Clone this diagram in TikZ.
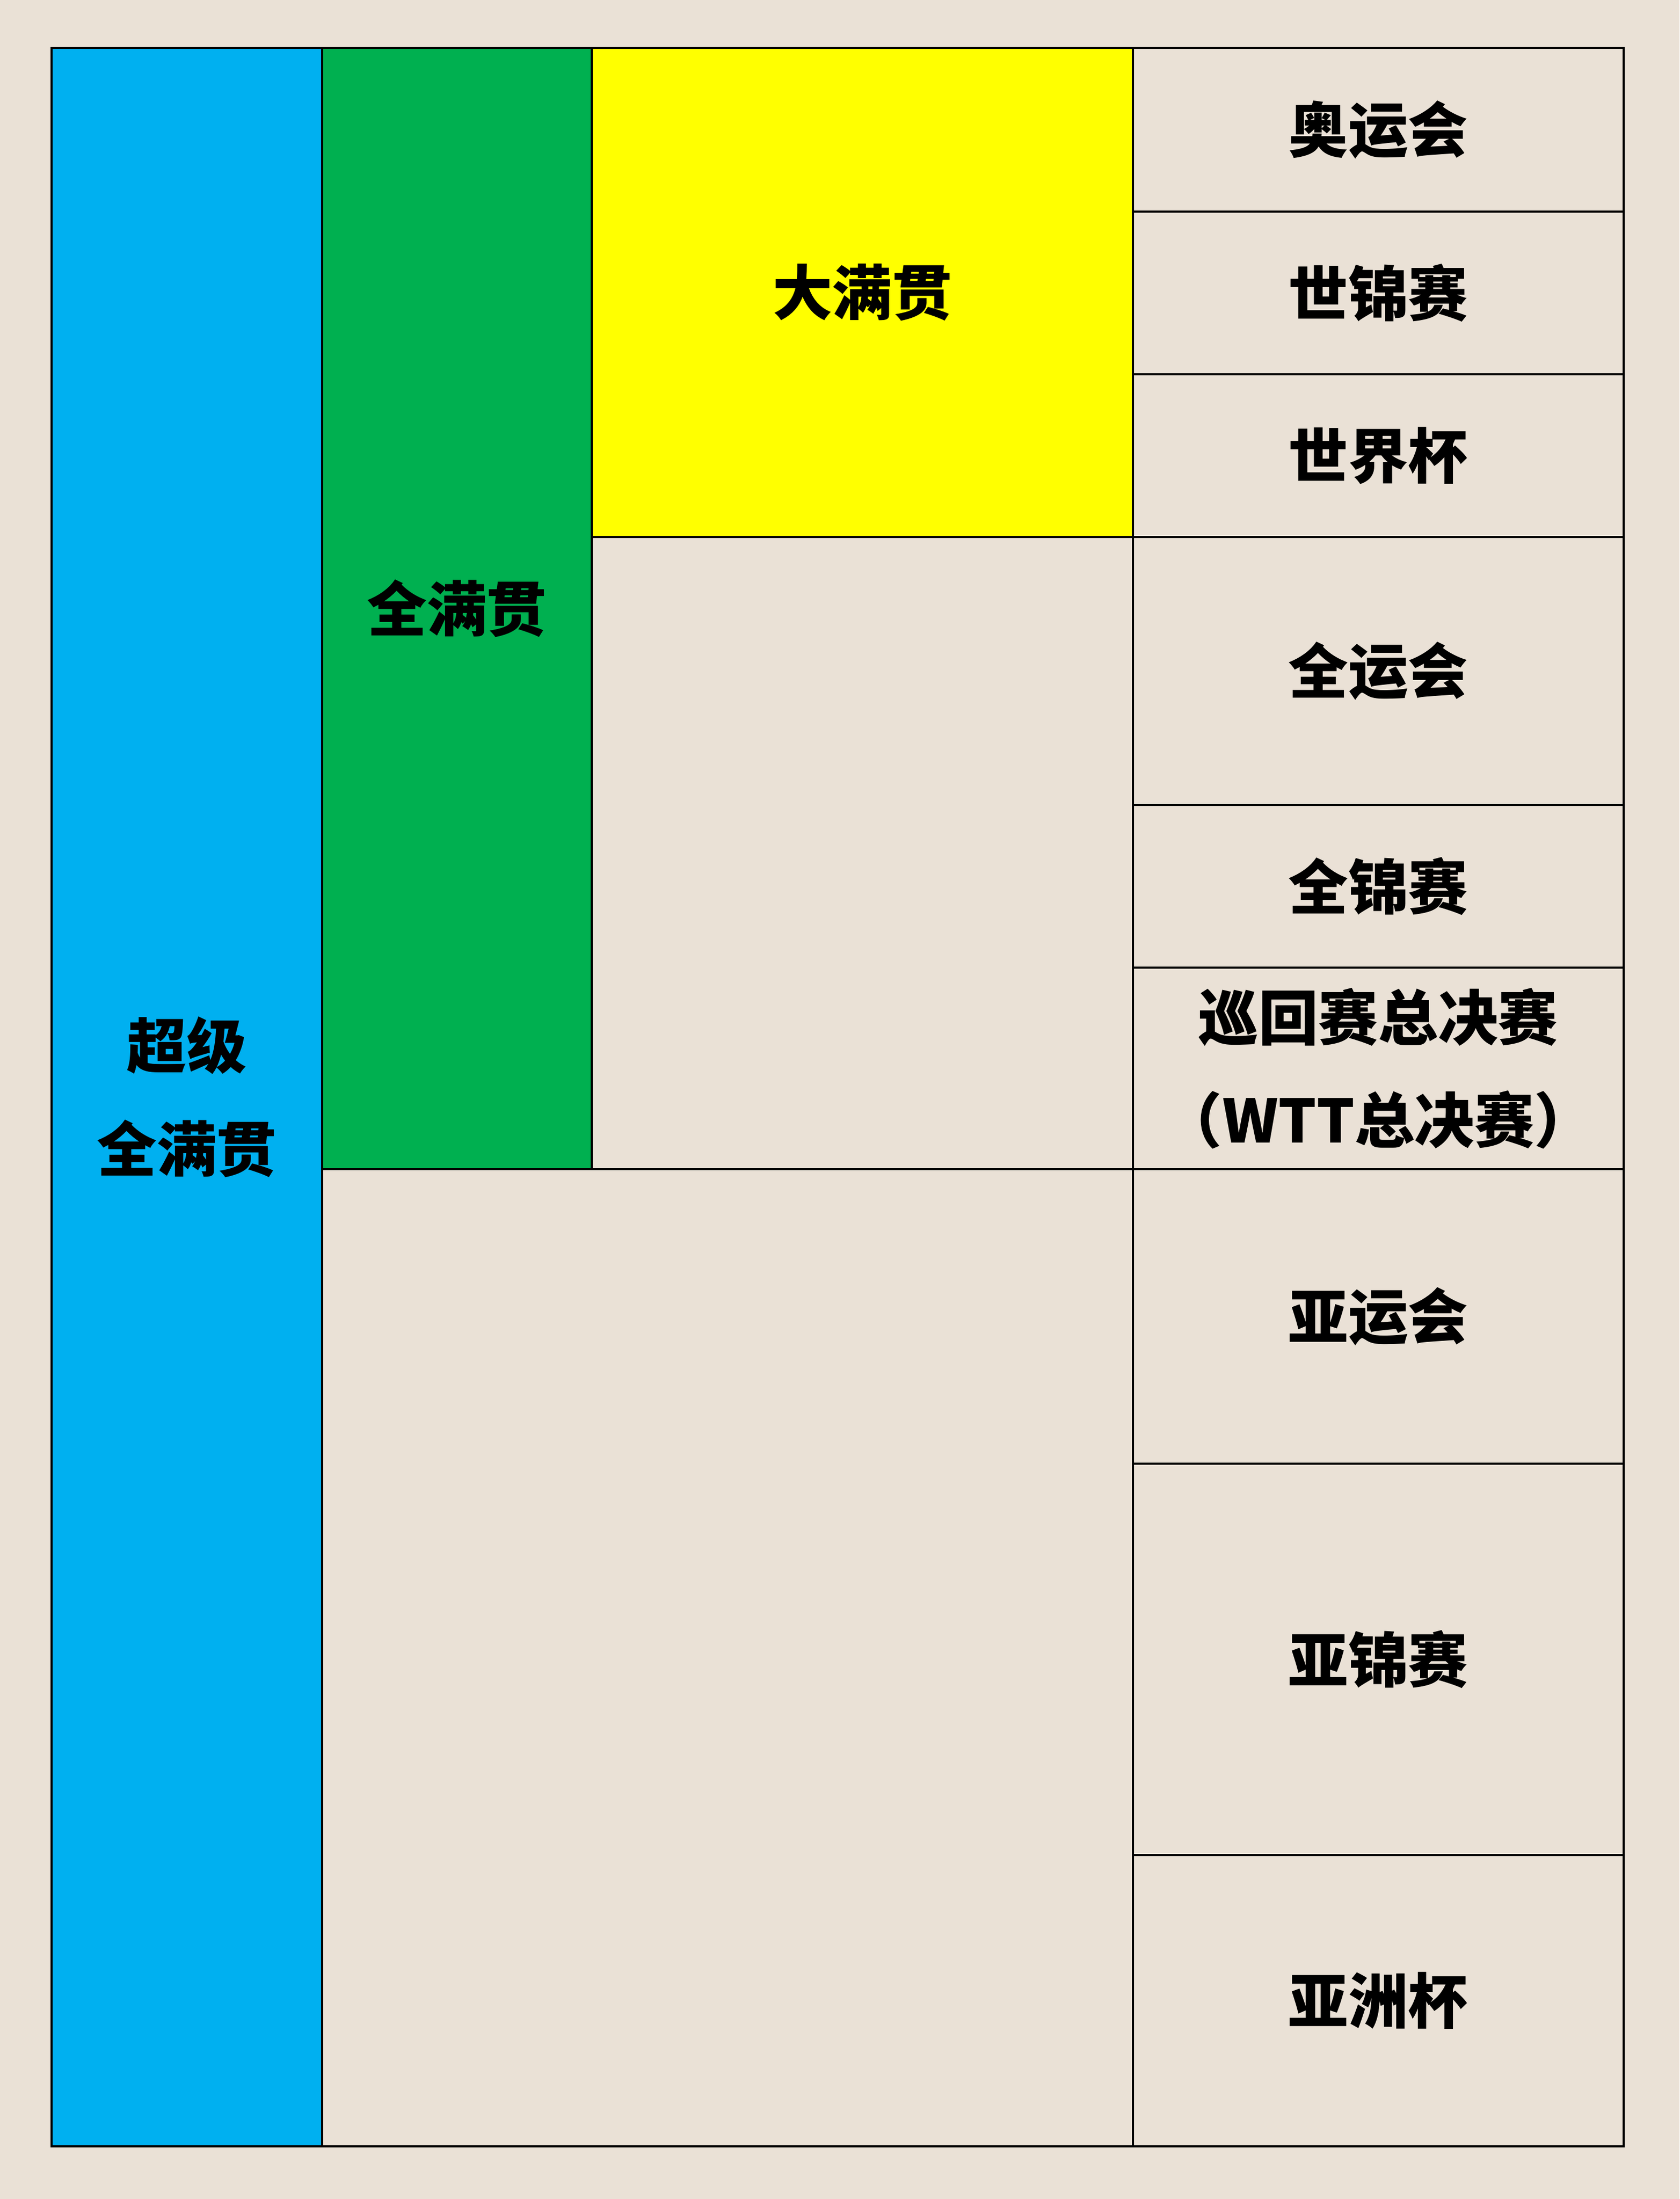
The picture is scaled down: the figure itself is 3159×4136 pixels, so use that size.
\documentclass[tikz,border=0pt]{standalone}
\usepackage{fontspec}
\setmainfont{Noto Sans CJK SC}
\begin{document}
\begin{tikzpicture}[x=0.01cm,y=-0.01cm,
  grid/.style={draw=black,line width=1.3pt},
  lbl/.style={font=\fontsize{32}{55}\selectfont\bfseries,text=black,align=center,inner sep=0pt}]
\definecolor{bgc}{RGB}{234,225,214}
\definecolor{cblue}{RGB}{0,176,240}
\definecolor{cgreen}{RGB}{0,176,80}
\definecolor{cyellow}{RGB}{255,255,0}
\useasboundingbox (0,0) rectangle (3159,4136);
\fill[bgc] (0,0) rectangle (3159,4136);
% left columns
\draw[grid,fill=cblue] (97,90) rectangle node[lbl] (super) {超级\\全满贯} (606,4037);
\draw[grid,fill=cgreen] (606,90) rectangle node[lbl] (full) {全满贯} (1113,2199);
\draw[grid,fill=cyellow] (1113,90) rectangle node[lbl] (grand) {大满贯} (2131,1010);
\draw[grid] (1113,1010) rectangle node (gap1) {} (2131,2199);
\draw[grid] (606,2199) rectangle node (gap2) {} (2131,4037);
% right column
\draw[grid] (2131,90) rectangle node[lbl] (aoyun) {奥运会} (3054,398);
\draw[grid] (2131,398) rectangle node[lbl] (shijin) {世锦赛} (3054,704);
\draw[grid] (2131,704) rectangle node[lbl] (shijie) {世界杯} (3054,1010);
\draw[grid] (2131,1010) rectangle node[lbl] (quanyun) {全运会} (3054,1514);
\draw[grid] (2131,1514) rectangle node[lbl] (quanjin) {全锦赛} (3054,1820);
\draw[grid] (2131,1820) rectangle node[lbl] (wtt) {巡回赛总决赛\\（WTT总决赛）} (3054,2199);
\draw[grid] (2131,2199) rectangle node[lbl] (yayun) {亚运会} (3054,2753);
\draw[grid] (2131,2753) rectangle node[lbl] (yajin) {亚锦赛} (3054,3489);
\draw[grid] (2131,3489) rectangle node[lbl] (yazhou) {亚洲杯} (3054,4037);
\end{tikzpicture}
\end{document}
